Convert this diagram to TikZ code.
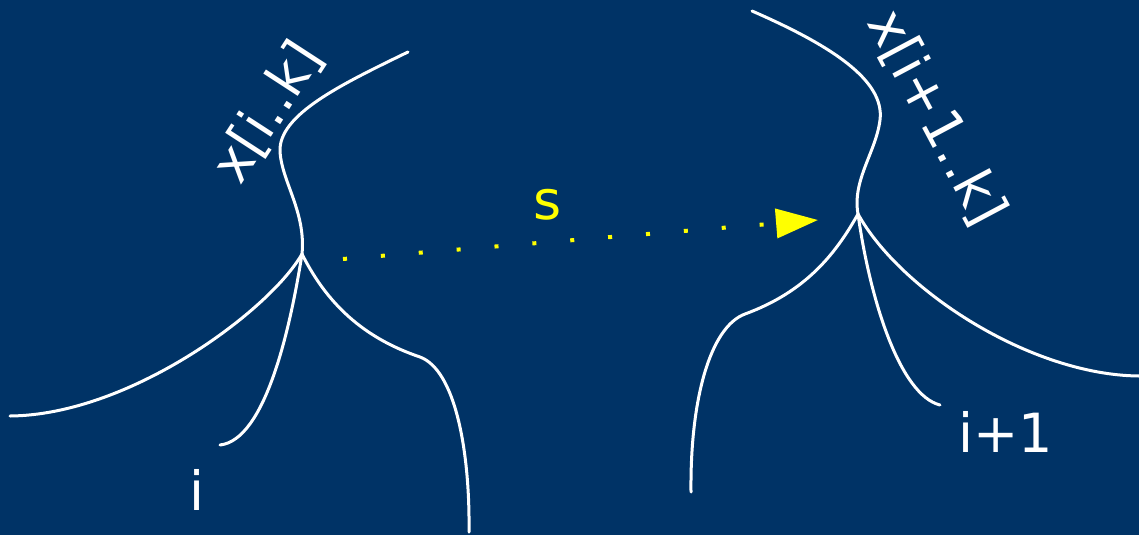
\documentclass[tikz,border=0pt]{standalone}
\usepackage{fontspec}
\setmainfont{DejaVu Sans}
\usetikzlibrary{arrows.meta}
\definecolor{bgblue}{RGB}{0,51,102}
\definecolor{sy}{RGB}{255,255,0}
\tikzset{
  branch/.style={draw=white, line width=3pt, line cap=round},
  lbl/.style={text=white, font=\fontsize{54}{60}\selectfont, inner sep=0pt},
  slbl/.style={text=sy, font=\fontsize{54}{60}\selectfont, inner sep=0pt},
  move/.style={draw=sy, line width=4pt, dash pattern=on 4pt off 34pt, -{Triangle[length=42pt,width=29pt]}}
}
\begin{document}
\begin{tikzpicture}[x=1pt,y=-1pt]
\fill[bgblue] (0,0) rectangle (1139,535);
\useasboundingbox (0,0) rectangle (1139,535);
% junctions and free ends
\coordinate (jl) at (302,254);
\coordinate (jr) at (858,214);
\coordinate (la) at (408,52);
\coordinate (lb) at (10,416);
\coordinate (lc) at (220,445);
\coordinate (ld) at (469,532);
\coordinate (ra) at (752,11);
\coordinate (rb) at (691,492);
\coordinate (rc) at (940,405);
\coordinate (rd) at (1139,376);
% left tree
\draw[branch] (la) .. controls (340,85) and (278,115) .. (280,152)
                   .. controls (282,182) and (306,212) .. (jl);
\draw[branch] (jl) .. controls (270,310) and (130,415) .. (lb);
\draw[branch] (jl) .. controls (290,330) and (265,440) .. (lc);
\draw[branch] (jl) .. controls (330,310) and (370,340) .. (420,357)
                   .. controls (455,370) and (470,450) .. (ld);
% right tree
\draw[branch] (ra) .. controls (830,45) and (885,80) .. (880,120)
                   .. controls (876,152) and (852,180) .. (jr);
\draw[branch] (jr) .. controls (835,255) and (805,292) .. (745,314)
                   .. controls (710,327) and (690,400) .. (rb);
\draw[branch] (jr) .. controls (870,300) and (900,395) .. (rc);
\draw[branch] (jr) .. controls (900,290) and (1030,375) .. (rd);
% labels
\node[lbl, rotate=57] (lk) at (268,112) {x[i..k]};
\node[lbl, rotate=-62] (rk) at (936,118) {x[i+1..k]};
\node[lbl] (li) at (197,490) {i};
\node[lbl] (ri) at (1006,432) {i+1};
% move
\coordinate (ms) at (343,259);
\coordinate (me) at (818,220);
\draw[move] (ms) -- (me);
\node[slbl] (s) at (548,205) {s};
\end{tikzpicture}
\end{document}
